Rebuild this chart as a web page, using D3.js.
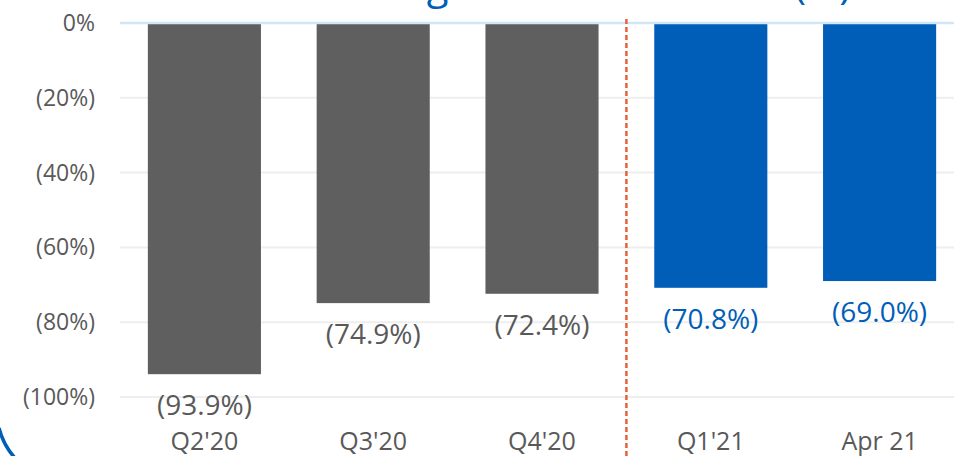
<!DOCTYPE html>
<html>
<head>
<meta charset="utf-8">
<script src="https://cdn.jsdelivr.net/npm/d3@7"></script>
<style>
  html, body { margin: 0; padding: 0; background: #fff; }
  svg { display: block; font-family: "Open Sans", "Noto Sans", sans-serif; }
</style>
</head>
<body>
<svg id="chart" width="954" height="456"></svg>
<script>
// ---- data ----
const categories = ["Q2'20", "Q3'20", "Q4'20", "Q1'21", "Apr 21"];
const values = [-93.9, -74.9, -72.4, -70.8, -69.0];
const groups = ["2020", "2020", "2020", "2021", "2021"];
const yTicks = [0, -20, -40, -60, -80, -100];
const titleText = "Change in Sales vs. 2019 (%)";

// ---- styles ----
const W = 954, H = 456;
const colorBar = { "2020": "#5F5F5F", "2021": "#005EB8" };
const colorLabel = { "2020": "#595959", "2021": "#005EB8" };
const axisGrey = "#595959";

const svg = d3.select("#chart");

const x = d3.scaleBand().domain(categories).range([120, 964])
  .paddingInner(0.33).paddingOuter(0.165);
const y = d3.scaleLinear().domain([0, -100]).range([23, 397]);

// title (mostly cut off at top, as in the reference)
svg.append("text")
  .attr("x", 851).attr("y", -1)
  .attr("text-anchor", "end")
  .attr("font-size", 40)
  .attr("fill", "#005EB8")
  .text(titleText);

// gridlines
svg.append("g").selectAll("line")
  .data(yTicks.filter(d => d !== 0))
  .join("line")
  .attr("x1", 120).attr("x2", W)
  .attr("y1", d => y(d)).attr("y2", d => y(d))
  .attr("stroke", "#EEEEEE").attr("stroke-width", 2);

// y labels
svg.append("g").selectAll("text")
  .data(yTicks)
  .join("text")
  .attr("x", 95).attr("y", d => y(d))
  .attr("dy", "0.35em")
  .attr("text-anchor", "end")
  .attr("font-size", 23)
  .attr("fill", axisGrey)
  .text(d => d === 0 ? "0%" : "(" + Math.abs(d) + "%)");

// bars
svg.append("g").selectAll("rect")
  .data(categories)
  .join("rect")
  .attr("x", d => x(d))
  .attr("width", x.bandwidth())
  .attr("y", y(0))
  .attr("height", (d, i) => y(values[i]) - y(0))
  .attr("fill", (d, i) => colorBar[groups[i]]);

// zero line
svg.append("line")
  .attr("x1", 120).attr("x2", W)
  .attr("y1", y(0)).attr("y2", y(0))
  .attr("stroke", "#CFE6F8").attr("stroke-width", 2.5);

// divider dashed line
const divX = x(categories[2]) + x.bandwidth() + x.step() * x.paddingInner() / 2;
svg.append("line")
  .attr("x1", divX).attr("x2", divX)
  .attr("y1", 19).attr("y2", H)
  .attr("stroke", "#E9603A").attr("stroke-width", 2.5)
  .attr("stroke-dasharray", "5,3");

// value labels
svg.append("g").selectAll("text")
  .data(categories)
  .join("text")
  .attr("x", d => x(d) + x.bandwidth() / 2)
  .attr("y", (d, i) => y(values[i]) + 31)
  .attr("dy", "0.35em")
  .attr("text-anchor", "middle")
  .attr("font-size", 28)
  .attr("fill", (d, i) => colorLabel[groups[i]])
  .text((d, i) => "(" + Math.abs(values[i]).toFixed(1) + "%)");

// category labels
svg.append("g").selectAll("text")
  .data(categories)
  .join("text")
  .attr("x", d => x(d) + x.bandwidth() / 2)
  .attr("y", 441)
  .attr("dy", "0.35em")
  .attr("text-anchor", "middle")
  .attr("font-size", 25)
  .attr("fill", axisGrey)
  .text(d => d);

// decorative arc bottom-left
svg.append("path")
  .attr("d", "M -1 428 A 70 70 0 0 0 15 458")
  .attr("fill", "none")
  .attr("stroke", "#005EB8")
  .attr("stroke-width", 3.5);
</script>
</body>
</html>
